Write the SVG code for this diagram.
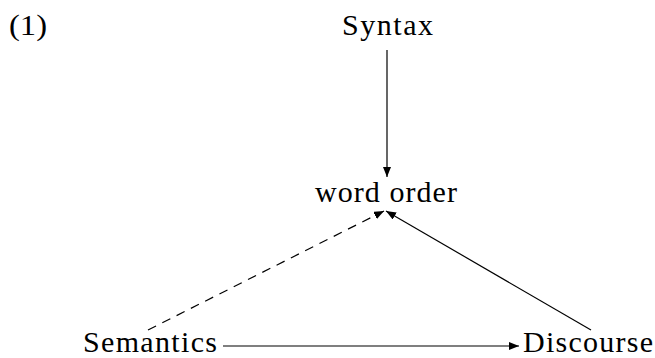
<svg xmlns="http://www.w3.org/2000/svg" width="655" height="358" viewBox="0 0 655 358">
<style>
text{font-family:"Liberation Serif","DejaVu Serif",serif;font-size:30px;fill:#000}
.c{stroke:#000;stroke-width:1.2;fill:none}
.d{stroke-dasharray:9 7}
</style>
<defs>
<marker id="ah" viewBox="0 0 10 8" refX="10" refY="4" markerWidth="10" markerHeight="8" markerUnits="userSpaceOnUse" orient="auto">
<path d="M0,0 L10,4 L0,8 Z" fill="#000"/>
</marker>
</defs>
<rect width="655" height="358" fill="#fff"/>
<g id="label"><text x="9" y="35" textLength="38" lengthAdjust="spacingAndGlyphs">(1)</text></g>
<g id="syntax"><text x="342" y="35" textLength="91" lengthAdjust="spacing">Syntax</text></g>
<g id="wordorder"><text x="315" y="202" textLength="142" lengthAdjust="spacing">word order</text></g>
<g id="semantics"><text x="83" y="352" textLength="134" lengthAdjust="spacing">Semantics</text></g>
<g id="discourse"><text x="523" y="352" textLength="130" lengthAdjust="spacing">Discourse</text></g>
<g id="connectors">
<line class="c" x1="387" y1="50" x2="387" y2="177" marker-end="url(#ah)"/>
<line class="c d" x1="148" y1="330" x2="384" y2="211" marker-end="url(#ah)"/>
<line class="c" x1="591" y1="330" x2="386" y2="211" marker-end="url(#ah)"/>
<line class="c" x1="223" y1="346" x2="519" y2="346" marker-end="url(#ah)"/>
</g>
</svg>
